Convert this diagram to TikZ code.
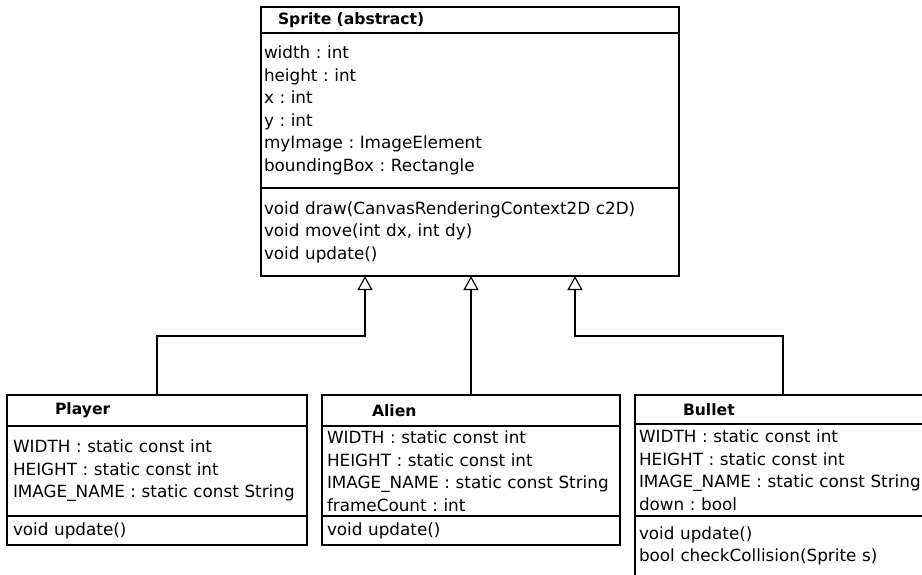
\documentclass[tikz,border=0pt]{standalone}
\usepackage{fontspec}
\setmainfont{DejaVu Sans}
\usetikzlibrary{arrows.meta}
\frenchspacing
\newcommand\attrfont{\fontsize{16.8}{22.5}\selectfont}
\newcommand\namefont{\bfseries\fontsize{15.6}{18}\selectfont}
\tikzset{
  part/.style={draw, line width=1.3pt, anchor=north west, outer sep=0pt, inner ysep=0pt, align=left, font=\attrfont},
  head/.style={part, font=\namefont},
  isa/.style={line width=1.2pt, -{Triangle[open, length=14pt, width=15pt]}},
}
\begin{document}
\begin{tikzpicture}[x=1pt,y=-1pt]
\clip (0,0) rectangle (922,574);
\node[head, inner xsep=17pt, text width=384pt, minimum height=26pt] (spriteT) at (261,7) {Sprite (abstract)};
\node[part, inner xsep=3pt, text width=412pt, minimum height=155pt] (spriteA) at (spriteT.south west) {width : int\\height : int\\x : int\\y : int\\myImage : ImageElement\\boundingBox : Rectangle};
\node[part, inner xsep=3pt, text width=412pt, minimum height=88pt] (spriteM) at (spriteA.south west) {void draw(CanvasRenderingContext2D c2D)\\void move(int dx, int dy)\\void update()};
\node[head, inner xsep=48pt, text width=204pt, minimum height=31pt] (playerT) at (7,395) {Player};
\node[part, inner xsep=6pt, text width=288pt, minimum height=90pt] (playerA) at (playerT.south west) {WIDTH : static const int\\HEIGHT : static const int\\IMAGE\_NAME : static const String};
\node[part, inner xsep=6pt, text width=288pt, minimum height=29pt] (playerM) at (playerA.south west) {void update()};
\node[head, inner xsep=50pt, text width=198pt, minimum height=31pt] (alienT) at (322,395) {Alien};
\node[part, inner xsep=5pt, text width=288pt, minimum height=90pt] (alienA) at (alienT.south west) {WIDTH : static const int\\HEIGHT : static const int\\IMAGE\_NAME : static const String\\frameCount : int};
\node[part, inner xsep=5pt, text width=288pt, minimum height=29pt] (alienM) at (alienA.south west) {void update()};
\node[head, inner xsep=48pt, text width=200pt, minimum height=29pt] (bulletT) at (635,395) {Bullet};
\node[part, inner xsep=4pt, text width=320pt, minimum height=92pt] (bulletA) at (bulletT.south west) {WIDTH : static const int\\HEIGHT : static const int\\IMAGE\_NAME : static const String\\down : bool};
\node[part, inner xsep=4pt, text width=320pt, minimum height=60pt] (bulletM) at (bulletA.south west) {void update()\\bool checkCollision(Sprite s)};
\coordinate (bendL) at (365,336);
\coordinate (bendR) at (575,336);
\path[draw,isa] (playerT.north) |- (bendL) -- (bendL |- spriteM.south);
\path[draw,isa] (alienT.north) -- (alienT.north |- spriteM.south);
\path[draw,isa] (bulletT.north) |- (bendR) -- (bendR |- spriteM.south);
\end{tikzpicture}
\end{document}
